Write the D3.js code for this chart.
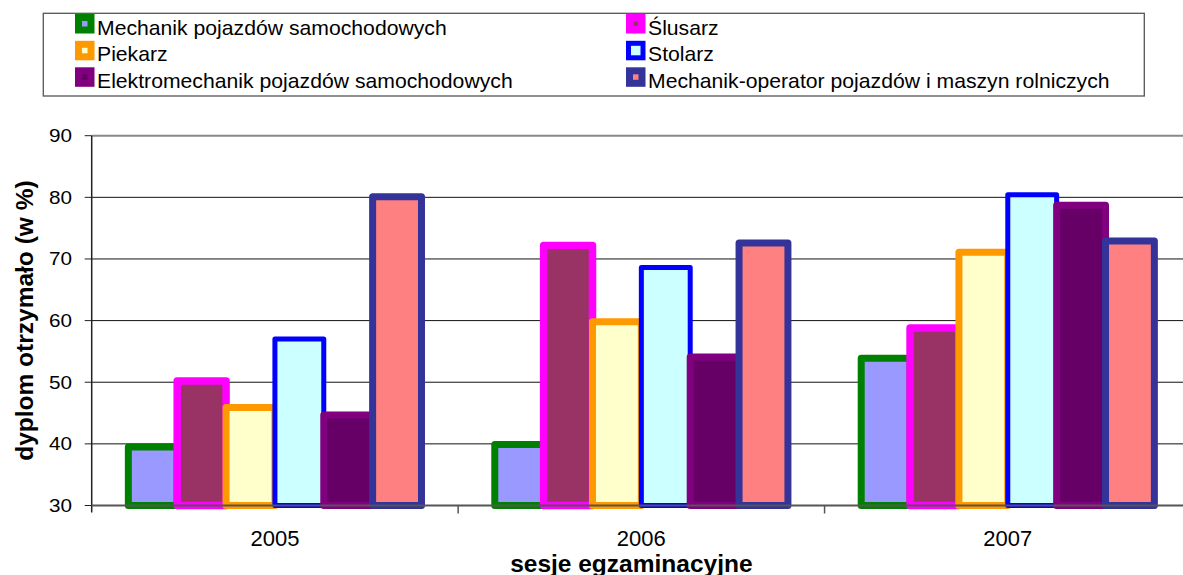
<!DOCTYPE html>
<html>
<head>
<meta charset="utf-8">
<script src="https://cdn.jsdelivr.net/npm/d3@7"></script>
<style>
  body { margin: 0; background: #fff; }
  svg { display: block; font-family: "Liberation Sans", Arial, sans-serif; }
</style>
</head>
<body>
<script>
// data
const years = ["2005", "2006", "2007"]
const seriesNames = [
  "Mechanik pojazdów samochodowych",
  "Ślusarz",
  "Piekarz",
  "Stolarz",
  "Elektromechanik pojazdów samochodowych",
  "Mechanik-operator pojazdów i maszyn rolniczych"
]
const mechanikPojazdow = [39.5, 39.9, 53.9]
const slusarz          = [50.2, 72.2, 58.8]
const piekarz          = [45.9, 59.8, 71.1]
const stolarz          = [57.0, 68.6, 80.4]
const elektromechanik  = [44.7, 54.1, 78.7]
const mechanikOperator = [80.1, 72.6, 72.9]
const yTicks = [30, 40, 50, 60, 70, 80, 90]

const seriesValues = [mechanikPojazdow, slusarz, piekarz, stolarz, elektromechanik, mechanikOperator]

// look of each series (fill, outline, outline width)
const styles = [
  { fill: "#9999FF", stroke: "#008000", sw: 7 },
  { fill: "#993366", stroke: "#FF00FF", sw: 7.5 },
  { fill: "#FFFFCC", stroke: "#FF9900", sw: 7 },
  { fill: "#CCFFFF", stroke: "#0000FF", sw: 5 },
  { fill: "#660066", stroke: "#800080", sw: 7 },
  { fill: "#FF8080", stroke: "#333399", sw: 7 }
]

const width = 1183, height = 575
const plot = { left: 91.7, right: 1191, top: 135.7, bottom: 505.5 }

const svg = d3.select("body").append("svg")
  .attr("width", width).attr("height", height)

const y = d3.scaleLinear().domain([30, 90]).range([plot.bottom, plot.top])
const x0 = d3.scaleBand().domain(years).range([plot.left, plot.right])
  .paddingInner(0.2).paddingOuter(0.1)
const x1 = d3.scaleBand().domain(d3.range(seriesNames.length)).range([0, x0.bandwidth()])

// stretched text helper (the original fonts are a bit wider than Arial)
function stretchText(sel, sx) {
  sel.attr("transform", function() {
    const tx = +d3.select(this).attr("data-x"), ty = +d3.select(this).attr("data-y")
    return `translate(${tx},${ty}) scale(${sx},1)`
  })
}

// gridlines
svg.append("g").selectAll("line")
  .data(yTicks.filter(t => t > 30))
  .join("line")
  .attr("x1", plot.left).attr("x2", width)
  .attr("y1", d => y(d)).attr("y2", d => y(d))
  .attr("stroke", d => d === 90 ? "#888" : "#111")
  .attr("stroke-width", d => d === 90 ? 2 : 1)

// bars, series by series so later ones sit on top
seriesValues.forEach((vals, s) => {
  const st = styles[s]
  svg.append("g").selectAll("rect")
    .data(vals.map((v, i) => ({ year: years[i], v })))
    .join("rect")
    .attr("x", d => x0(d.year) + x1(s))
    .attr("width", x1.bandwidth())
    .attr("y", d => y(d.v))
    .attr("height", d => y(30) - y(d.v))
    .attr("fill", st.fill)
    .attr("stroke", st.stroke)
    .attr("stroke-width", st.sw)
    .attr("stroke-linejoin", "round")
})

// y axis
const yAxis = svg.append("g")
yAxis.append("line")
  .attr("x1", plot.left).attr("x2", plot.left)
  .attr("y1", plot.top).attr("y2", plot.bottom + 7)
  .attr("stroke", "#222").attr("stroke-width", 1.5)
yAxis.selectAll(".tk").data(yTicks).join("line")
  .attr("x1", plot.left - 7).attr("x2", plot.left)
  .attr("y1", d => y(d)).attr("y2", d => y(d))
  .attr("stroke", "#222").attr("stroke-width", 1)
yAxis.selectAll("text").data(yTicks).join("text")
  .attr("data-x", 72).attr("data-y", d => y(d) + 6.5)
  .attr("text-anchor", "end")
  .attr("font-size", 18).attr("fill", "#000")
  .text(d => d)
  .call(stretchText, 1.15)

// x axis
const xAxis = svg.append("g")
xAxis.append("line")
  .attr("x1", plot.left).attr("x2", width)
  .attr("y1", plot.bottom).attr("y2", plot.bottom)
  .attr("stroke", "#555").attr("stroke-width", 2)
const gap = (x0.step() - x0.bandwidth()) / 2
xAxis.selectAll(".tk").data(years).join("line")
  .attr("x1", d => x0(d) + x0.bandwidth() + gap)
  .attr("x2", d => x0(d) + x0.bandwidth() + gap)
  .attr("y1", plot.bottom).attr("y2", plot.bottom + 8)
  .attr("stroke", "#555").attr("stroke-width", 1.5)
xAxis.selectAll("text").data(years).join("text")
  .attr("x", d => x0(d) + x0.bandwidth() / 2)
  .attr("y", 546)
  .attr("text-anchor", "middle")
  .attr("font-size", 22).attr("fill", "#000")
  .text(d => d)

// axis titles
svg.append("text")
  .attr("x", (plot.left + plot.right) / 2 - 10).attr("y", 572)
  .attr("text-anchor", "middle")
  .attr("font-size", 24.5).attr("font-weight", "bold")
  .text("sesje egzaminacyjne")
svg.append("text")
  .attr("transform", `translate(33,${(plot.top + plot.bottom) / 2}) rotate(-90)`)
  .attr("text-anchor", "middle")
  .attr("font-size", 24.5).attr("font-weight", "bold")
  .text("dyplom otrzymało (w %)")

// legend
const legend = svg.append("g")
legend.append("rect")
  .attr("x", 43.3).attr("y", 13.3).attr("width", 1101).attr("height", 82.7)
  .attr("fill", "#fff").attr("stroke", "#555").attr("stroke-width", 1.3)

const colX = [75, 626]
const rowBase = [34.5, 61.3, 87.8]
const items = legend.selectAll(".item").data(seriesNames).join("g")
items.append("rect")
  .attr("x", (d, i) => colX[i % 2] + styles[i].sw / 2)
  .attr("y", (d, i) => rowBase[Math.floor(i / 2)] - 20.5 + styles[i].sw / 2)
  .attr("width", (d, i) => 19.5 - styles[i].sw)
  .attr("height", (d, i) => 19.5 - styles[i].sw)
  .attr("fill", (d, i) => styles[i].fill)
  .attr("stroke", (d, i) => styles[i].stroke)
  .attr("stroke-width", (d, i) => styles[i].sw)
items.append("text")
  .attr("data-x", (d, i) => colX[i % 2] + 22)
  .attr("data-y", (d, i) => rowBase[Math.floor(i / 2)])
  .attr("font-size", 20).attr("fill", "#000")
  .text(d => d)
  .call(stretchText, 1.06)
</script>
</body>
</html>
